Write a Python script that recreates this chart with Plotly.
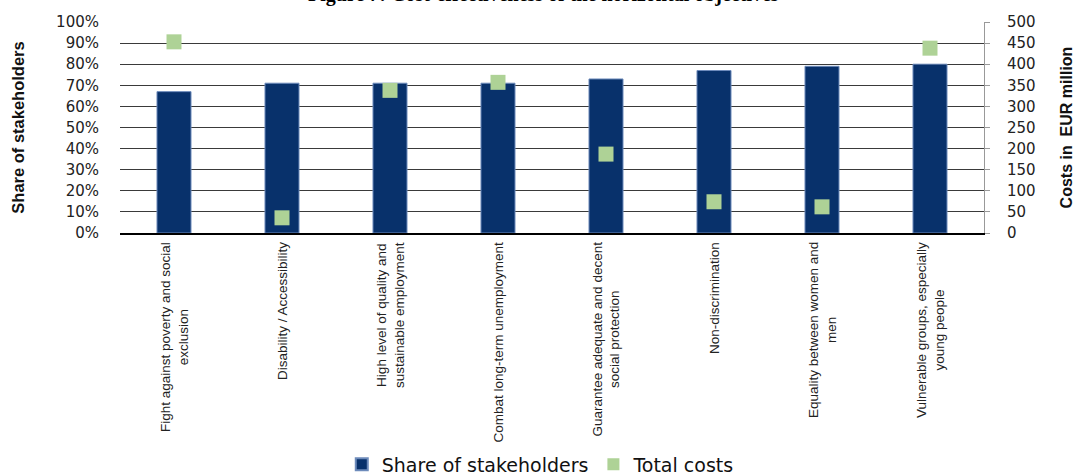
import plotly.graph_objects as go

categories = [
    "Fight against poverty and social<br>exclusion",
    "Disability / Accessibility",
    "High level of quality and<br>sustainable employment",
    "Combat long-term unemployment",
    "Guarantee adequate and decent<br>social protection",
    "Non-discrimination",
    "Equality between women and<br>men",
    "Vulnerable groups, especially<br>young people",
]
share_of_stakeholders = [67, 71, 71, 71, 73, 77, 79, 80]
total_costs = [453, 36, 338, 357, 187, 74, 62, 438]
left_ticks = [0, 10, 20, 30, 40, 50, 60, 70, 80, 90, 100]
right_ticks = [0, 50, 100, 150, 200, 250, 300, 350, 400, 450, 500]

arial = "Liberation Sans, Arial, sans-serif"
wide = "DejaVu Sans, Verdana, sans-serif"

fig = go.Figure()
fig.add_trace(go.Bar(
    x=categories, y=share_of_stakeholders, name="Share of stakeholders",
    marker=dict(color="#08316b", line=dict(color="#6d8bbb", width=1)),
    yaxis="y",
))
fig.add_trace(go.Scatter(
    x=categories, y=total_costs, name="Total costs", mode="markers",
    marker=dict(symbol="square", size=15, color="#aed296", line=dict(width=0)),
    yaxis="y2",
))

annotations = [dict(
    text="<b>Figure 7: Cost-effectiveness of the horizontal objectives</b>",
    xref="paper", yref="paper", x=0.49, y=1.066, xanchor="center", yanchor="bottom",
    showarrow=False, font=dict(family="Liberation Serif, Times New Roman, serif", size=20, color="black"),
)]
for c in categories:
    annotations.append(dict(
        text=c, x=c, xref="x", y=0, yref="paper", yanchor="top", xanchor="center",
        yshift=-7, textangle=-90, align="center", showarrow=False,
        font=dict(family=arial, size=13.5, color="#222"),
    ))

fig.update_layout(
    width=1076, height=473,
    margin=dict(l=120, r=92, t=22, b=240, autoexpand=False),
    paper_bgcolor="white", plot_bgcolor="white",
    bargap=0.685,
    showlegend=True,
    legend=dict(orientation="h", x=0.487, xanchor="center", y=-1.097, yanchor="middle",
                font=dict(family=wide, size=19, color="#111"), itemsizing="constant",
                traceorder="normal"),
    xaxis=dict(
        type="category", showgrid=False, automargin=False,
        showline=True, linecolor="black", linewidth=2,
        ticks="", showticklabels=False,
    ),
    yaxis=dict(
        range=[0, 100], tickvals=left_ticks, ticktext=[f"{v}%" for v in left_ticks],
        showgrid=True, gridcolor="#3a3a3a", gridwidth=1, zeroline=False, automargin=False,
        showline=False, ticks="", ticklabelstandoff=20,
        tickfont=dict(family=wide, size=15, color="#222"),
        title=dict(text="<b>Share of stakeholders</b>", standoff=27,
                   font=dict(family=arial, size=16.5, color="#111")),
    ),
    yaxis2=dict(
        overlaying="y", side="right", range=[0, 500], tickvals=right_ticks, automargin=False,
        showgrid=False, zeroline=False, showline=True, linecolor="#999", linewidth=1,
        ticks="outside", ticklen=5, tickcolor="#999", ticklabelstandoff=14,
        tickfont=dict(family=wide, size=15, color="#222"),
        title=dict(text="<b>Costs in&nbsp; EUR million</b>", standoff=26,
                   font=dict(family=arial, size=16, color="#111")),
    ),
    annotations=annotations,
)

fig.write_html("out.html", config={"displayModeBar": False},
               post_script="document.body.style.margin='0';document.body.style.overflow='hidden';")
